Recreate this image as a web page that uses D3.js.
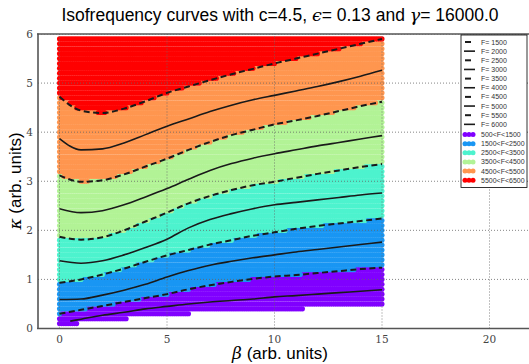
<!DOCTYPE html>
<html>
<head>
<meta charset="utf-8">
<script src="https://cdn.jsdelivr.net/npm/d3@7"></script>
<style>
body { margin: 0; background: #fff; }
</style>
</head>
<body>
<div id="plot"></div>
<script>
var width = 529;
var height = 364;

var beta_pts = [0, 1, 2, 3, 4, 5, 6, 7, 8, 9, 10, 11, 12, 13, 14, 15];
var beta_pts_low = [0.5, 1, 2, 3, 4, 5, 6, 7, 8, 9, 10, 11, 12, 13, 14, 15];

// kappa of each contour, bottom to top
var curve_a = [0.15, 0.19, 0.27, 0.33, 0.40, 0.45, 0.50, 0.54, 0.57, 0.60, 0.645, 0.67, 0.70, 0.73, 0.76, 0.79];
var curve_b = [0.30, 0.38, 0.46, 0.54, 0.62, 0.70, 0.80, 0.88, 0.95, 1.01, 1.06, 1.09, 1.13, 1.17, 1.21, 1.24];
var curve_c = [0.59, 0.60, 0.68, 0.78, 0.90, 1.05, 1.18, 1.29, 1.37, 1.44, 1.50, 1.56, 1.61, 1.66, 1.71, 1.76];
var curve_d = [0.93, 1.00, 1.10, 1.22, 1.36, 1.49, 1.60, 1.71, 1.80, 1.89, 1.96, 2.03, 2.09, 2.14, 2.19, 2.24];
var curve_e = [1.38, 1.33, 1.38, 1.50, 1.65, 1.82, 2.05, 2.22, 2.34, 2.44, 2.52, 2.57, 2.62, 2.67, 2.72, 2.76];
var curve_f = [1.87, 1.81, 1.86, 2.00, 2.18, 2.36, 2.55, 2.70, 2.82, 2.92, 2.99, 3.07, 3.15, 3.22, 3.29, 3.35];
var curve_g = [2.44, 2.36, 2.40, 2.52, 2.68, 2.85, 3.04, 3.22, 3.36, 3.47, 3.56, 3.64, 3.72, 3.79, 3.86, 3.93];
var curve_h = [3.12, 2.99, 3.02, 3.14, 3.30, 3.46, 3.64, 3.80, 3.94, 4.05, 4.16, 4.24, 4.33, 4.43, 4.53, 4.62];
var curve_i = [3.87, 3.64, 3.66, 3.78, 3.95, 4.12, 4.27, 4.42, 4.55, 4.66, 4.75, 4.84, 4.93, 5.03, 5.14, 5.26];
var curve_j = [4.72, 4.44, 4.39, 4.48, 4.63, 4.80, 4.93, 5.06, 5.18, 5.29, 5.40, 5.50, 5.60, 5.70, 5.80, 5.90];
// lower edge of the F>500 points
var edge_500 = [0.05, 0.11, 0.15, 0.195, 0.23, 0.26, 0.30, 0.315, 0.33, 0.345, 0.36, 0.395, 0.41, 0.42, 0.43, 0.44];

var curves = [curve_a, curve_b, curve_c, curve_d, curve_e, curve_f, curve_g, curve_h, curve_i, curve_j];
var curve_dashed = [false, true, false, true, false, true, false, true, false, true];

// legend of the lines
var line_labels = ['F= 1500', 'F= 2000', 'F= 2500', 'F= 3000', 'F= 3500', 'F= 4000', 'F= 4500', 'F= 5000', 'F= 5500', 'F= 6000'];
var line_dashed = [true, false, true, false, true, false, true, false, true, false];

// frequency bands of the scatter
var band_labels = ['500<F<1500', '1500<F<2500', '2500<F<3500', '3500<F<4500', '4500<F<5500', '5500<F<6500'];
var band_colors = ['#8000ff', '#1996f3', '#4df3ce', '#b2f396', '#ff964f', '#ff0000'];
var band_lower = [edge_500, curve_b, curve_d, curve_f, curve_h, curve_j];

// sampling grid of the scatter points
var beta_grid = d3.range(0, 151).map(function(i) { return i / 10; });
var kappa_grid = d3.range(1, 60).map(function(j) { return j / 10; });

var x_ticks = [0, 5, 10, 15, 20];
var y_ticks = [0, 1, 2, 3, 4, 5, 6];

var x_scale = d3.scaleLinear().domain([-1, 22]).range([38, 532.5]);
var y_scale = d3.scaleLinear().domain([0, 6]).range([328.5, 34]);

var canvas = d3.select('#plot')
                .append('svg')
                .attr('width', width)
                .attr('height', height)
                .style('font-family', 'Liberation Sans, Arial, sans-serif');

canvas.append('clipPath').attr('id', 'clip')
    .append('rect')
    .attr('x', 38).attr('y', 34)
    .attr('width', 500).attr('height', 294.5);

var bounds = band_lower.map(function(k) {
    return d3.scaleLinear().domain(beta_pts).range(k);
});

function band_of(b, k) {
    var idx = -1;
    for (var i = 0; i < bounds.length; i++) {
        if (k >= bounds[i](b) - 1e-9) idx = i;
    }
    return idx;
}

var points = [];
kappa_grid.forEach(function(k) {
    beta_grid.forEach(function(b) {
        var idx = band_of(b, k);
        if (idx >= 0) points.push({ beta: b, kappa: k, band: idx });
    });
});
points.sort(function(p, q) { return p.band - q.band; });

var plot = canvas.append('g').attr('clip-path', 'url(#clip)');

// scatter
plot.selectAll('circle.dot')
    .data(points)
    .enter()
    .append('circle')
    .attr('class', 'dot')
    .attr('cx', function(d) { return x_scale(d.beta); })
    .attr('cy', function(d) { return y_scale(d.kappa); })
    .attr('r', 2.55)
    .style('fill', function(d) { return band_colors[d.band]; });

// grid
plot.selectAll('line.xgrid')
    .data(x_ticks)
    .enter()
    .append('line')
    .attr('x1', function(d) { return x_scale(d); })
    .attr('x2', function(d) { return x_scale(d); })
    .attr('y1', y_scale(0)).attr('y2', y_scale(6))
    .style('stroke', '#666').style('stroke-width', 0.8).style('stroke-dasharray', '1,2');

plot.selectAll('line.ygrid')
    .data(y_ticks)
    .enter()
    .append('line')
    .attr('x1', x_scale(-1)).attr('x2', x_scale(22))
    .attr('y1', function(d) { return y_scale(d); })
    .attr('y2', function(d) { return y_scale(d); })
    .style('stroke', '#666').style('stroke-width', 0.8).style('stroke-dasharray', '1,2');

// contours
var line = d3.line()
    .x(function(d) { return x_scale(d[0]); })
    .y(function(d) { return y_scale(d[1]); })
    .curve(d3.curveMonotoneX);

curves.forEach(function(c, i) {
    var bs = (i === 0) ? beta_pts_low : beta_pts;
    plot.append('path')
        .datum(c.map(function(k, j) { return [bs[j], k]; }))
        .attr('d', line)
        .style('fill', 'none')
        .style('stroke', '#1a1a1a')
        .style('stroke-width', curve_dashed[i] ? 2 : 1.6)
        .style('stroke-dasharray', curve_dashed[i] ? '6,3.5' : null);
});

// spines
canvas.append('line')
    .attr('x1', 38).attr('x2', 38).attr('y1', 33.5).attr('y2', 329)
    .style('stroke', '#555').style('stroke-width', 1.6);
canvas.append('line')
    .attr('x1', 37).attr('x2', 529).attr('y1', 328.5).attr('y2', 328.5)
    .style('stroke', '#555').style('stroke-width', 1.6);
canvas.append('line')
    .attr('x1', 37).attr('x2', 529).attr('y1', 34).attr('y2', 34)
    .style('stroke', '#555').style('stroke-width', 1.6);

// tick labels
canvas.selectAll('text.xtick')
    .data(x_ticks)
    .enter()
    .append('text')
    .attr('x', function(d) { return x_scale(d); })
    .attr('y', 343)
    .attr('text-anchor', 'middle')
    .style('font-family', 'DejaVu Serif, serif')
    .style('font-size', '10.5px')
    .style('fill', '#444')
    .text(function(d) { return d; });

canvas.selectAll('text.ytick')
    .data(y_ticks)
    .enter()
    .append('text')
    .attr('x', 33)
    .attr('y', function(d) { return y_scale(d) + 3.5; })
    .attr('text-anchor', 'end')
    .style('font-family', 'DejaVu Serif, serif')
    .style('font-size', '10.5px')
    .style('fill', '#444')
    .text(function(d) { return d; });

// title
var title = canvas.append('text')
    .attr('x', 280).attr('y', 21)
    .attr('text-anchor', 'middle')
    .style('font-size', '17.5px')
    .style('fill', '#000');
title.append('tspan').text('Isofrequency curves with c=4.5, ');
title.append('tspan').style('font-family', 'DejaVu Serif, serif').style('font-style', 'italic').text('\u03f5');
title.append('tspan').text('= 0.13 and ');
title.append('tspan').style('font-family', 'DejaVu Serif, serif').style('font-style', 'italic').text('\u03b3');
title.append('tspan').text('= 16000.0');

// axis labels
var xlab = canvas.append('text')
    .attr('x', 280).attr('y', 359)
    .attr('text-anchor', 'middle')
    .style('font-size', '17px');
xlab.append('tspan').style('font-family', 'DejaVu Serif, serif').style('font-style', 'italic').text('\u03b2');
xlab.append('tspan').text(' (arb. units)');

var ylab = canvas.append('text')
    .attr('transform', 'translate(21,181) rotate(-90)')
    .attr('text-anchor', 'middle')
    .style('font-size', '17px');
ylab.append('tspan').style('font-family', 'DejaVu Serif, serif').style('font-style', 'italic').text('\u03ba');
ylab.append('tspan').text(' (arb. units)');

// legend
var lg_x = 461, lg_y = 35, row_h = 9.15;
var n_rows = line_labels.length + band_labels.length;
var legend = canvas.append('g');
legend.append('rect')
    .attr('x', lg_x).attr('y', lg_y)
    .attr('width', 66).attr('height', n_rows * row_h + 6)
    .style('fill', '#fff').style('stroke', '#000').style('stroke-width', 0.8);

line_labels.forEach(function(lab, i) {
    var yy = lg_y + 7 + i * row_h;
    legend.append('line')
        .attr('x1', line_dashed[i] ? 465 : 464)
        .attr('x2', line_dashed[i] ? 471 : 475)
        .attr('y1', yy).attr('y2', yy)
        .style('stroke', '#1a1a1a')
        .style('stroke-width', line_dashed[i] ? 2 : 1.6);
    legend.append('text')
        .attr('x', 481).attr('y', yy + 2.5)
        .style('font-size', '7px').style('fill', '#333')
        .text(lab);
});

band_labels.forEach(function(lab, i) {
    var yy = lg_y + 7 + (line_labels.length + i) * row_h + 1;
    [465, 469, 473].forEach(function(cx) {
        legend.append('circle')
            .attr('cx', cx).attr('cy', yy).attr('r', 2.5)
            .style('fill', band_colors[i]);
    });
    legend.append('text')
        .attr('x', 481).attr('y', yy + 2.5)
        .style('font-size', '7px').style('fill', '#333')
        .text(lab);
});
</script>
</body>
</html>
